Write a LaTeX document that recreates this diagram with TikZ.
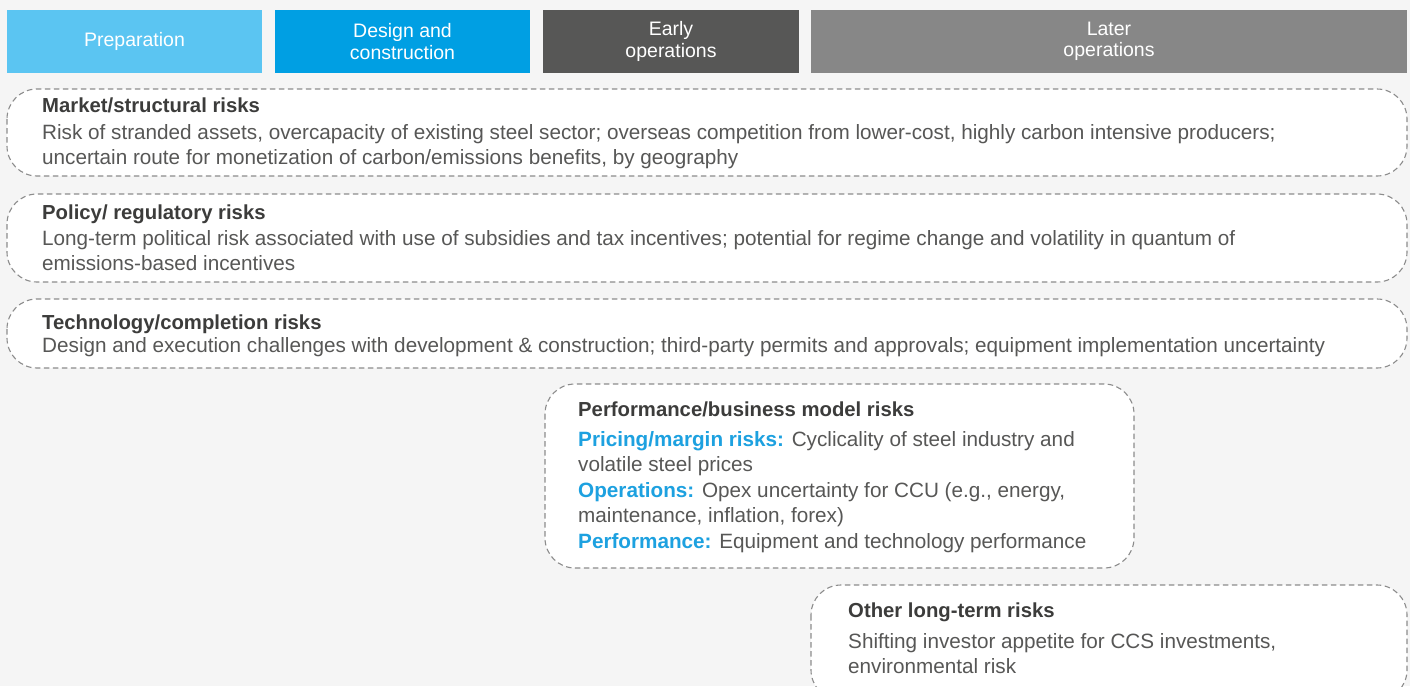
\documentclass[tikz,border=0pt]{standalone}
\usepackage{fontspec}
\setmainfont{Liberation Sans}
\definecolor{bg}{HTML}{F5F5F5}
\definecolor{cprep}{HTML}{5BC5F2}
\definecolor{cdes}{HTML}{009FE3}
\definecolor{cearly}{HTML}{575756}
\definecolor{clater}{HTML}{878787}
\definecolor{ctitle}{HTML}{3C3C3B}
\definecolor{cbody}{HTML}{575756}
\definecolor{cblue}{HTML}{1DA1E0}
\definecolor{cdash}{HTML}{8C8C8C}
\begin{document}
\begin{tikzpicture}[x=1pt,y=-1pt,
  phase/.style={fill=#1,draw=none},
  phasetext/.style={text=white,font=\fontsize{19.5}{21.5}\selectfont,align=center,anchor=center},
  riskbox/.style={fill=white,draw=cdash,line width=1.1pt,dash pattern=on 5.5pt off 3.5pt,rounded corners=30pt},
  rtitle/.style={anchor=base west,inner sep=0pt,text=ctitle,font=\fontsize{20.3}{24}\selectfont\bfseries},
  rbody/.style={anchor=base west,inner sep=0pt,text=cbody,font=\fontsize{20.7}{24}\selectfont}]
\useasboundingbox (0,0) rectangle (1410,686);
\fill[bg] (0,0) rectangle (1410,686);
% phase headers
\fill[phase=cprep] (7,10) rectangle (262,73);
\fill[phase=cdes] (275,10) rectangle (530,73);
\fill[phase=cearly] (543,10) rectangle (799,73);
\fill[phase=clater] (811,10) rectangle (1407,73);
\node[phasetext] (p1) at (134.5,41) {Preparation};
\node[phasetext] (p2) at (402.5,41.5) {Design and\\construction};
\node[phasetext] (p3) at (671,41.5) {Early\\operations};
\node[phasetext] (p4) at (1109,41.5) {Later\\operations};
% risk boxes
\draw[riskbox] (7,89) rectangle (1407,176);
\draw[riskbox] (7,194) rectangle (1407,282);
\draw[riskbox] (7,299) rectangle (1407,368);
\draw[riskbox] (545,384) rectangle (1134,568);
\draw[riskbox] (811,585) rectangle (1407,700);
% market
\node[rtitle] (m0) at (42,112) {Market/structural risks};
\node[rbody] (m1) at (42,139) {Risk of stranded assets, overcapacity of existing steel sector; overseas competition from lower-cost, highly carbon intensive producers;};
\node[rbody] (m2) at (42,164) {uncertain route for monetization of carbon/emissions benefits, by geography};
% policy
\node[rtitle] (r0) at (42,219) {Policy/ regulatory risks};
\node[rbody] (r1) at (42,245) {Long-term political risk associated with use of subsidies and tax incentives; potential for regime change and volatility in quantum of};
\node[rbody] (r2) at (42,270) {emissions-based incentives};
% technology
\node[rtitle] (t0) at (42,329) {Technology/completion risks};
\node[rbody] (t1) at (42,352) {Design and execution challenges with development \& construction; third-party permits and approvals; equipment implementation uncertainty};
% performance
\node[rtitle] (f0) at (578,416) {Performance/business model risks};
\node[rbody] (f1) at (578,446) {\textcolor{cblue}{\bfseries Pricing/margin risks:} Cyclicality of steel industry and};
\node[rbody] (f2) at (578,471) {volatile steel prices};
\node[rbody] (f3) at (578,497) {\textcolor{cblue}{\bfseries Operations:} Opex uncertainty for CCU (e.g., energy,};
\node[rbody] (f4) at (578,522) {maintenance, inflation, forex)};
\node[rbody] (f5) at (578,548) {\textcolor{cblue}{\bfseries Performance:} Equipment and technology performance};
% other
\node[rtitle] (o0) at (848,617) {Other long-term risks};
\node[rbody] (o1) at (848,648) {Shifting investor appetite for CCS investments,};
\node[rbody] (o2) at (848,673) {environmental risk};
\end{tikzpicture}
\end{document}
